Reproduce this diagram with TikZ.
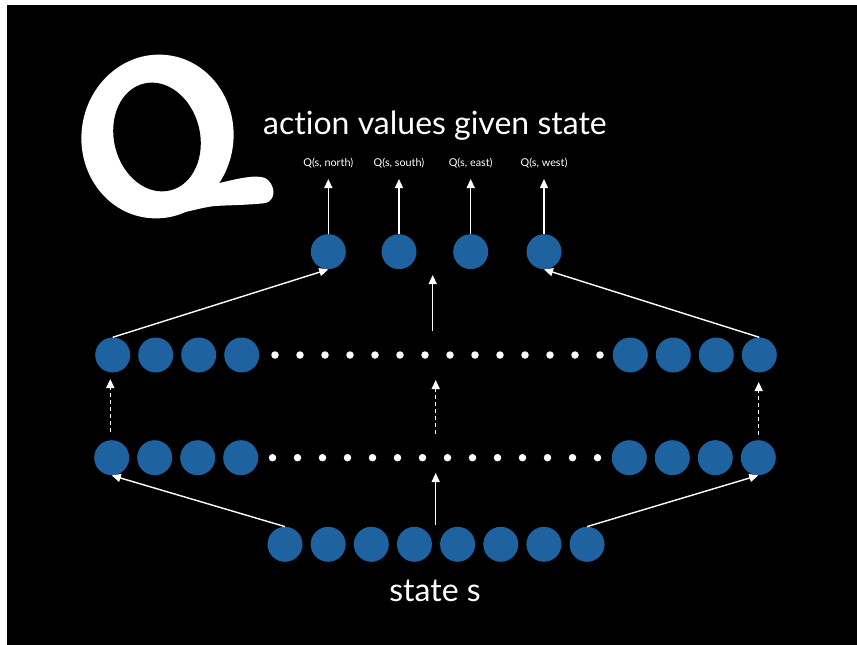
\documentclass[tikz,border=0pt]{standalone}
\usepackage{fontspec}
\setmainfont{Lato}[Ligatures={NoCommon}]
\usetikzlibrary{arrows.meta}
\definecolor{unitblue}{RGB}{30,99,160}
\tikzset{
  unit/.style={circle, fill=unitblue, inner sep=0pt, minimum size=35pt},
  gap/.style={circle, fill=white, inner sep=0pt, minimum size=7.5pt},
  link/.style={white, line width=1.4pt, -{Triangle[width=8pt,length=9pt]}},
  dlink/.style={link, dash pattern=on 4pt off 3pt},
  qlabel/.style={text=white, font=\fontsize{10.8}{12}\selectfont, anchor=base},
  bigtext/.style={text=white, font=\fontsize{32}{38}\selectfont, inner sep=0pt},
}
\begin{document}
\begin{tikzpicture}[x=1pt, y=-1pt]
  \useasboundingbox (0,0) rectangle (857,645);
  \fill[white] (0,0) rectangle (857,645);
  \fill[black] (7,5) rectangle (857,645);

  % big letter Q
  \fill[white] (157.5,136.5) ellipse [x radius=76, y radius=82, rotate=-8];
  \fill[black] (157,137) ellipse [x radius=43, y radius=55, rotate=14];
  \fill[white] (190,190) -- (228,181) .. controls (245,177) and (262,174) .. (268,180)
     .. controls (276,188) and (275,200) .. (266,203)
     .. controls (250,205) and (232,205) .. (215,206)
     .. controls (205,207) and (195,210) .. (185,212) -- cycle;

  \node[bigtext, anchor=base west] (title) at (263,134.3) {action values given state};

  % output units and their labels
  \foreach \n/\x in {1/328.3, 2/399, 3/470.7, 4/544}
    \node[unit] (o\n) at (\x,251.7) {};
  \node[qlabel] (qn) at (328.3,166) {Q(s, north)};
  \node[qlabel] (qs) at (399,166) {Q(s, south)};
  \node[qlabel] (qe) at (470.7,166) {Q(s, east)};
  \node[qlabel] (qw) at (544,166) {Q(s, west)};
  \foreach \n/\x in {1/328.3, 2/399, 3/470.7, 4/544} {
    \coordinate (tip\n) at (\x,179);
    \draw[link] (o\n.north) -- (tip\n);
  }

  % upper hidden layer
  \foreach \i/\x in {1/112.7, 2/155.7, 3/198.7, 4/241.7, 5/630.3, 6/673.3, 7/716.3, 8/759.3}
    \node[unit] (h\i) at (\x,355) {};
  \foreach \k in {0,...,13}
    \node[gap] (hg\k) at (275+25*\k,355) {};

  % lower hidden layer
  \foreach \i/\x in {1/111.7, 2/154.7, 3/197.7, 4/240.7, 5/629.3, 6/672.3, 7/715.3, 8/758.3}
    \node[unit] (g\i) at (\x,457.7) {};
  \foreach \k in {0,...,13}
    \node[gap] (gg\k) at (272.5+25*\k,457.7) {};

  % input layer
  \foreach \i in {1,...,8}
    \node[unit] (s\i) at (285+43.15*\i-43.15,544.3) {};
  \node[bigtext, anchor=base] (state) at (435,601) {state s};

  % connections between layers
  \draw[link] (s1.north) -- (g1.south);
  \draw[link] (s8.north) -- (g8.south);
  \coordinate (m1a) at (435.7,525);
  \coordinate (m1b) at (435.7,473);
  \draw[link] (m1a) -- (m1b);

  \coordinate (d1a) at (110.3,432);  \coordinate (d1b) at (110.3,379);
  \coordinate (d2a) at (435.7,434);  \coordinate (d2b) at (435.7,380);
  \coordinate (d3a) at (758.7,435);  \coordinate (d3b) at (758.7,382);
  \draw[dlink] (d1a) -- (d1b);
  \draw[dlink] (d2a) -- (d2b);
  \draw[dlink] (d3a) -- (d3b);

  \draw[link] (h1.north) -- (o1.south);
  \draw[link] (h8.north) -- (o4.south);
  \coordinate (m2a) at (432.7,331);
  \coordinate (m2b) at (432.7,275);
  \draw[link] (m2a) -- (m2b);
\end{tikzpicture}
\end{document}
